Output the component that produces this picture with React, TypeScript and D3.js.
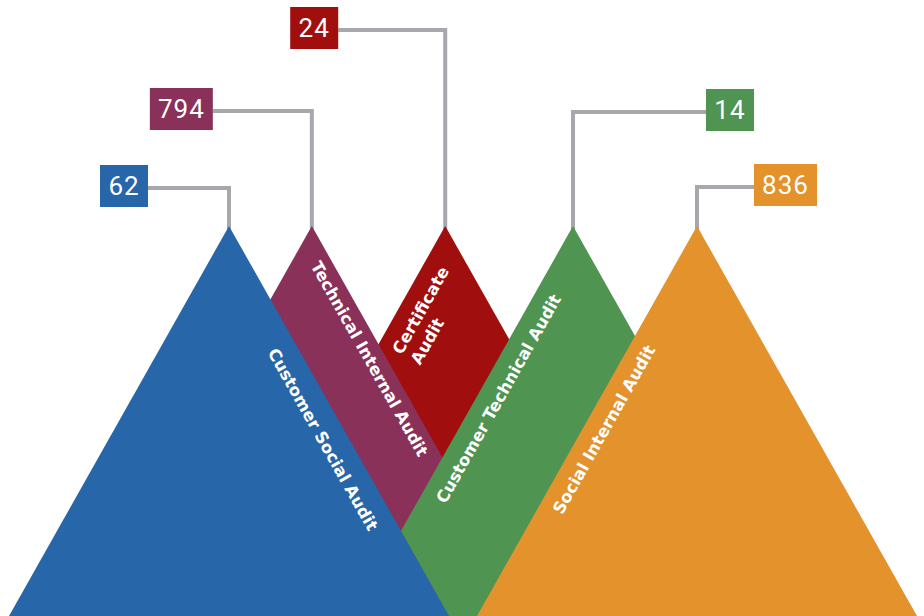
import React from 'react';
import * as d3 from 'd3';

// ---------- data ----------
const categories = [
  'Customer Social Audit',
  'Technical Internal Audit',
  'Certificate Audit',
  'Customer Technical Audit',
  'Social Internal Audit',
];
const values = [62, 794, 24, 14, 836];
// peak position along the ridge (0–100)
const peakPositions = [0, 17.7, 46.2, 73.5, 100];
const labelLines = [
  ['Customer Social Audit'],
  ['Technical Internal Audit'],
  ['Certificate', 'Audit'],
  ['Customer Technical Audit'],
  ['Social Internal Audit'],
];

// ---------- layout / style ----------
const colors = ['#2766a8', '#8a3159', '#a00e0e', '#4f9450', '#e3922c'];
const drawOrder = [2, 1, 3, 0, 4];
const W = 924;
const H = 616;
const apexY = 226;
const baseY = 616;
const halfBase = 220;
const edgeSide = [1, 1, -1, -1, -1]; // which edge carries the name
const labelAlong = [232, 144, 134, 187, 223];
const labelPerp = [23, 15, 20, 20, 19];
const labelAnchor = ['middle', 'middle', 'start', 'middle', 'middle'];
const lineGap = 21;
const boxSide = [-1, -1, -1, 1, 1];
const boxGap = [81, 99, 107, 133, 57];
const boxY = [188, 111, 30, 112, 187];

export default function App() {
  const x = d3.scaleLinear().domain([0, 100]).range([229, 697]);
  const tri = d3.line();
  const h = baseY - apexY;
  const L = Math.hypot(halfBase, h);
  const ux = halfBase / L;
  const uy = h / L;
  const angle = (Math.atan2(h, halfBase) * 180) / Math.PI;

  return (
    <svg
      width={W}
      height={H}
      style={{ position: 'absolute', left: 0, top: 0, display: 'block' }}
    >
      <rect width={W} height={H} fill="#ffffff" />
      {/* connectors */}
      {values.map((v, i) => {
        const ax = x(peakPositions[i]);
        const edge = ax + boxSide[i] * boxGap[i];
        return (
          <path
            key={'c' + i}
            d={`M${ax},${apexY + 4}V${boxY[i]}H${edge}`}
            fill="none"
            stroke="#a6a8ad"
            strokeWidth={4}
          />
        );
      })}
      {/* triangles */}
      {drawOrder.map((i) => {
        const ax = x(peakPositions[i]);
        const d =
          tri([
            [ax - halfBase, baseY],
            [ax, apexY],
            [ax + halfBase, baseY],
          ]) + 'Z';
        return <path key={'t' + i} d={d} fill={colors[i]} />;
      })}
      {/* names */}
      {categories.map((c, i) => {
        const ax = x(peakPositions[i]);
        const s = edgeSide[i];
        return labelLines[i].map((line, j) => {
          const along = labelAlong[i];
          const perp = labelPerp[i] + j * lineGap;
          const px = ax + along * s * ux - s * uy * perp;
          const py = apexY + along * uy + ux * perp;
          return (
            <text
              key={'l' + i + '-' + j}
              transform={`translate(${px},${py}) rotate(${s * angle})`}
              textAnchor={labelAnchor[i]}
              dy="0.35em"
              fill="#ffffff"
              fontFamily="DejaVu Sans, sans-serif"
              fontWeight="bold"
              fontSize={16.5}
            >
              {line}
            </text>
          );
        });
      })}
      {/* value boxes */}
      {values.map((v, i) => {
        const ax = x(peakPositions[i]);
        const edge = ax + boxSide[i] * boxGap[i];
        const label = String(v);
        const bw = label.length * 15 + 18;
        const bh = 42;
        const bx = boxSide[i] < 0 ? edge - bw : edge;
        const by = boxY[i] - 2 - bh / 2;
        return (
          <g key={'b' + i}>
            <rect x={bx} y={by} width={bw} height={bh} fill={colors[i]} />
            <text
              x={bx + bw / 2}
              y={by + bh / 2}
              dy="0.36em"
              textAnchor="middle"
              fill="#ffffff"
              fontFamily="Roboto, sans-serif"
              fontSize={26}
              letterSpacing={1}
            >
              {label}
            </text>
          </g>
        );
      })}
    </svg>
  );
}
